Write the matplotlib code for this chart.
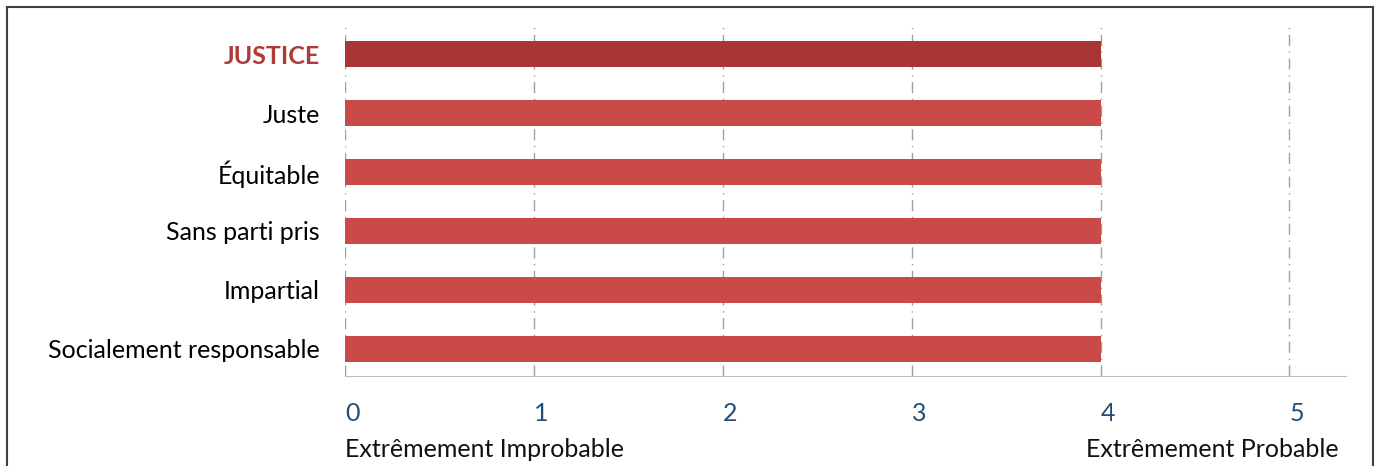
import matplotlib.pyplot as plt
from matplotlib.patches import Rectangle

# data
labels = ['JUSTICE', 'Juste', 'Équitable', 'Sans parti pris', 'Impartial',
          'Socialement responsable']
values = [4, 4, 4, 4, 4, 4]
colors = ['#AA3535', '#C94A48', '#C94A48', '#C94A48', '#C94A48', '#C94A48']
ticks = [0, 1, 2, 3, 4, 5]

plt.rcParams['font.family'] = ['Lato', 'DejaVu Sans']

fig = plt.figure(figsize=(13.8, 4.66), dpi=100)
ax = fig.add_axes([0.25, 0.193, 0.7254, 0.753])

# outer frame of the figure
fig.patches.append(Rectangle((0.005, -0.05), 0.99, 1.035, transform=fig.transFigure,
                             fill=False, edgecolor='#404040', linewidth=1.5))

ypos = list(range(len(labels)))
ax.barh(ypos, values, height=0.44, color=colors, zorder=3)

ax.set_xlim(0, 5.3)
ax.set_ylim(5.46, -0.49)

ax.set_yticks(ypos)
ax.set_yticklabels(labels, fontsize=18)
ax.get_yticklabels()[0].set_color('#B03A3A')
ax.get_yticklabels()[0].set_fontweight('bold')
ax.tick_params(axis='y', length=0, pad=18)

ax.set_xticks(ticks)
ax.set_xticklabels([str(t) for t in ticks], fontsize=18, color='#1F4E79', ha='left')
ax.tick_params(axis='x', length=0, pad=19)

ax.grid(axis='x', color='#A0A0A0', linestyle=(0, (8, 4, 1, 4)), linewidth=1, zorder=0)

for s in ['top', 'right', 'left']:
    ax.spines[s].set_visible(False)
ax.spines['bottom'].set_color('#BFBFBF')

ax.text(0, -0.21, 'Extrêmement Improbable', transform=ax.transAxes,
        fontsize=18, ha='left', va='center', color='#111111')
ax.text(5.26 / 5.3, -0.21, 'Extrêmement Probable', transform=ax.transAxes,
        fontsize=18, ha='right', va='center', color='#111111')

plt.savefig('out.png', dpi=100)
